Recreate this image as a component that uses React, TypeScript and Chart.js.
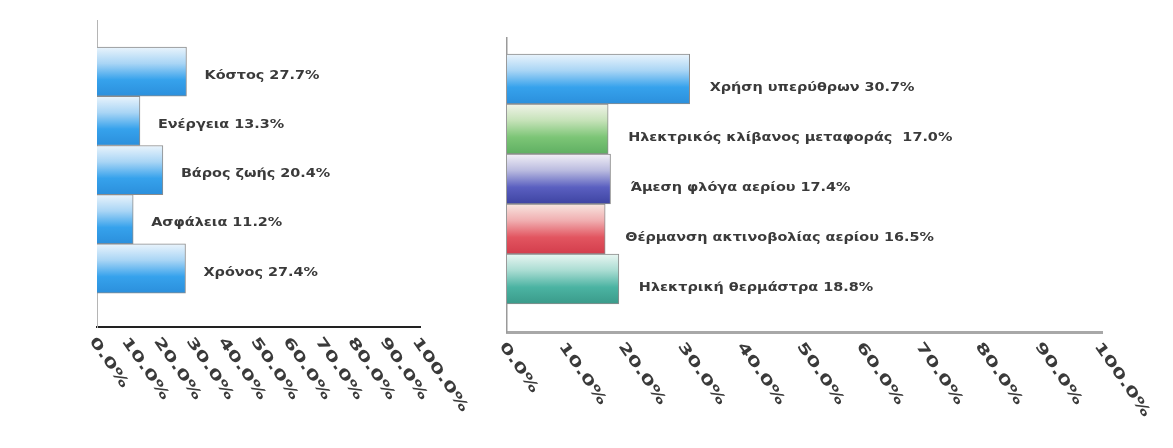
import React, { useEffect, useRef } from 'react';
import { Chart, registerables } from 'chart.js';

Chart.register(...registerables);

// ---------- data ----------
const leftCategories = ['Κόστος', 'Ενέργεια', 'Βάρος ζωής', 'Ασφάλεια', 'Χρόνος'];
const leftValues = [27.7, 13.3, 20.4, 11.2, 27.4];

const rightCategories = [
  'Χρήση υπερύθρων',
  'Ηλεκτρικός κλίβανος μεταφοράς ',
  'Άμεση φλόγα αερίου',
  'Θέρμανση ακτινοβολίας αερίου',
  'Ηλεκτρική θερμάστρα',
];
const rightValues = [30.7, 17.0, 17.4, 16.5, 18.8];

const tickValues = [0, 10, 20, 30, 40, 50, 60, 70, 80, 90, 100];
const tickLabels = ['0.0%', '10.0%', '20.0%', '30.0%', '40.0%', '50.0%', '60.0%', '70.0%', '80.0%', '90.0%', '100.0%'];

// ---------- styles ----------
const BLUE = ['#eaf4fc', '#a9d5f5', '#36a2ec', '#2b8fdc'];
const GREEN = ['#f1f3e9', '#c5e2b8', '#7cc576', '#5faf62'];
const NAVY = ['#f2f0f6', '#b9badf', '#5a5fc0', '#3e44a2'];
const RED = ['#f8e6e0', '#f0aeb0', '#e25560', '#d33d4c'];
const TEAL = ['#e9f6f2', '#a9dcd2', '#4bb3a2', '#3a9a8a'];
const leftPalette = [BLUE, BLUE, BLUE, BLUE, BLUE];
const rightPalette = [BLUE, GREEN, NAVY, RED, TEAL];

type Setup = {
  categories: string[];
  values: number[];
  palette: string[][];
  padding: { left: number; right: number; top: number; bottom: number };
  yMin: number;
  yMax: number;
  xBorder: { color: string; width: number };
  yBorder: { color: string; width: number };
  labelDx: number;
  labelDy: number;
};

function makeOverlay(s: Setup) {
  return {
    id: 'overlay',
    afterDraw(chart: any) {
      const ctx = chart.ctx as CanvasRenderingContext2D;
      const meta = chart.getDatasetMeta(0);
      ctx.save();
      ctx.fillStyle = '#3a3a3a';
      ctx.textAlign = 'left';
      ctx.textBaseline = 'middle';
      ctx.font = "bold 12px 'DejaVu Sans'";
      meta.data.forEach((bar: any, i: number) => {
        const { x, y } = bar.getProps(['x', 'y'], true);
        const text = s.categories[i] + ' ' + s.values[i].toFixed(1) + '%';
        ctx.save();
        ctx.translate(x + s.labelDx, y + s.labelDy);
        ctx.scale(1.2, 1);
        ctx.fillText(text, 0, 0);
        ctx.restore();
      });
      const xs = chart.scales.x;
      const bottom = chart.chartArea.bottom;
      ctx.font = "bold 14px 'DejaVu Sans'";
      ctx.fillStyle = '#3a3a3a';
      xs.ticks.forEach((t: any) => {
        const idx = tickValues.indexOf(t.value);
        if (idx < 0) return;
        const px = xs.getPixelForValue(t.value);
        ctx.save();
        ctx.translate(px - 5, bottom + 12);
        ctx.rotate((55 * Math.PI) / 180);
        ctx.scale(1.5, 1);
        ctx.fillText(tickLabels[idx], 0, 0);
        ctx.restore();
      });
      ctx.restore();
    },
  };
}

function makeConfig(s: Setup): any {
  return {
    type: 'bar',
    data: {
      datasets: [
        {
          data: s.values.map((v, i) => ({ x: v, y: i })),
          backgroundColor: (c: any) => {
            const chart = c.chart;
            const ys = chart.scales && chart.scales.y;
            const stops = s.palette[c.dataIndex ?? 0] || BLUE;
            if (!ys || !c.raw) return stops[2];
            const center = ys.getPixelForValue(c.raw.y);
            const half = Math.abs(ys.getPixelForValue(1) - ys.getPixelForValue(0)) / 2;
            if (!isFinite(center) || !isFinite(half) || half <= 0) return stops[2];
            const g = chart.ctx.createLinearGradient(0, center - half, 0, center + half);
            stops.forEach((col: string, k: number) => g.addColorStop(k / (stops.length - 1), col));
            return g;
          },
          borderColor: '#8c8c8c',
          borderWidth: 1,
          borderSkipped: 'start',
          barPercentage: 1,
          categoryPercentage: 1,
        },
      ],
    },
    options: {
      indexAxis: 'y',
      responsive: false,
      animation: false,
      layout: { padding: s.padding },
      plugins: { legend: { display: false }, tooltip: { enabled: false } },
      scales: {
        x: {
          type: 'linear',
          min: 0,
          max: 100,
          ticks: { display: false, stepSize: 10 },
          grid: { display: false },
          border: { display: true, color: s.xBorder.color, width: s.xBorder.width },
          afterFit: (sc: any) => { sc.height = 0; },
        },
        y: {
          type: 'linear',
          reverse: true,
          offset: false,
          min: s.yMin,
          max: s.yMax,
          ticks: { display: false },
          grid: { display: false, offset: false },
          border: { display: true, color: s.yBorder.color, width: s.yBorder.width },
          afterBuildTicks: (sc: any) => { sc.ticks = s.values.map((_v, i) => ({ value: i })); },
          afterFit: (sc: any) => { sc.width = 0; },
        },
      },
    },
    plugins: [makeOverlay(s)],
  };
}

const W = 1173;
const H = 448;

const leftSetup: Setup = {
  categories: leftCategories,
  values: leftValues,
  palette: leftPalette,
  padding: { left: 97, right: W - 420, top: 20, bottom: H - 327 },
  yMin: -1.05,
  yMax: 5.19,
  xBorder: { color: '#222', width: 2 },
  yBorder: { color: '#b5b5b5', width: 1 },
  labelDx: 18,
  labelDy: 4,
};

const rightSetup: Setup = {
  categories: rightCategories,
  values: rightValues,
  palette: rightPalette,
  padding: { left: 507, right: W - 1102, top: 38, bottom: H - 332 },
  yMin: -0.82,
  yMax: 5.06,
  xBorder: { color: '#a8a8a8', width: 3 },
  yBorder: { color: '#9a9a9a', width: 1.5 },
  labelDx: 20,
  labelDy: 9,
};

function ChartCanvas({ setup }: { setup: Setup }) {
  const ref = useRef<HTMLCanvasElement>(null);
  useEffect(() => {
    if (!ref.current) return;
    const chart = new Chart(ref.current, makeConfig(setup));
    return () => chart.destroy();
  }, [setup]);
  return (
    <canvas
      ref={ref}
      width={W}
      height={H}
      style={{ position: 'absolute', left: 0, top: 0, width: W, height: H }}
    />
  );
}

export default function App() {
  return (
    <div style={{ position: 'fixed', left: 0, top: 0, width: W, height: H, background: '#fff', overflow: 'hidden' }}>
      <ChartCanvas setup={leftSetup} />
      <ChartCanvas setup={rightSetup} />
    </div>
  );
}
